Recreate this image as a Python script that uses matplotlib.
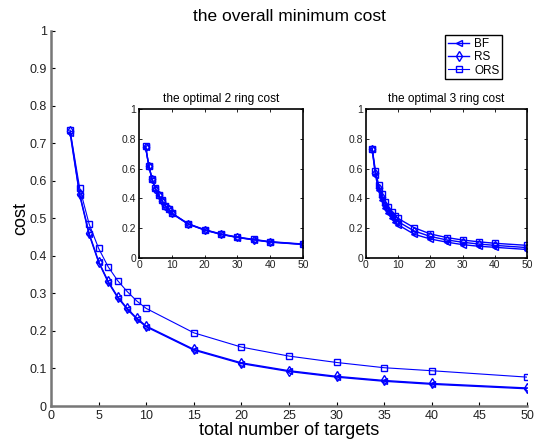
import matplotlib
matplotlib.use("Agg")
import matplotlib.pyplot as plt
import numpy as np

plt.rcParams['font.family'] = ['Liberation Sans', 'DejaVu Sans']

# number of targets
n = [2, 3, 4, 5, 6, 7, 8, 9, 10, 15, 20, 25, 30, 35, 40, 50]

# overall minimum cost
bf_all = [0.727, 0.563, 0.457, 0.383, 0.330, 0.289, 0.258, 0.232, 0.211, 0.149, 0.113, 0.092, 0.077, 0.066, 0.058, 0.046]
rs_all = [0.733, 0.565, 0.460, 0.385, 0.332, 0.291, 0.260, 0.234, 0.213, 0.151, 0.115, 0.094, 0.079, 0.068, 0.060, 0.048]
ors_all = [0.735, 0.582, 0.485, 0.420, 0.371, 0.334, 0.305, 0.280, 0.260, 0.195, 0.157, 0.133, 0.116, 0.102, 0.094, 0.077]

# optimal 2 ring cost
bf_2 = [0.746, 0.615, 0.526, 0.463, 0.420, 0.382, 0.347, 0.324, 0.298, 0.226, 0.186, 0.157, 0.136, 0.120, 0.105, 0.089]
rs_2 = [0.748, 0.618, 0.528, 0.465, 0.422, 0.384, 0.348, 0.326, 0.299, 0.227, 0.187, 0.158, 0.137, 0.121, 0.106, 0.090]
ors_2 = [0.750, 0.620, 0.530, 0.467, 0.424, 0.386, 0.350, 0.328, 0.301, 0.229, 0.189, 0.160, 0.139, 0.123, 0.108, 0.092]

# optimal 3 ring cost
bf_3 = [0.730, 0.557, 0.456, 0.389, 0.337, 0.300, 0.270, 0.243, 0.222, 0.158, 0.126, 0.105, 0.088, 0.077, 0.070, 0.055]
rs_3 = [0.732, 0.570, 0.472, 0.407, 0.357, 0.320, 0.288, 0.263, 0.243, 0.180, 0.143, 0.120, 0.104, 0.092, 0.083, 0.068]
ors_3 = [0.735, 0.586, 0.490, 0.427, 0.377, 0.340, 0.306, 0.283, 0.265, 0.202, 0.160, 0.136, 0.119, 0.107, 0.097, 0.083]

blue = (0, 0, 1)
styles = [("BF", "<", 1.0), ("RS", "d", 1.0), ("ORS", "s", 0.8)]

fig = plt.figure(figsize=(5.43, 4.43), dpi=100)

# main axes
ax = fig.add_axes([0.094, 0.0835, 0.8765, 0.8472])
for (lab, mk, lw), y in zip(styles, [bf_all, rs_all, ors_all]):
    ax.plot(n, y, color=blue, marker=mk, ms=5, mfc="none", mec=blue,
            mew=1.0, lw=lw, label=lab)
ax.set_xlim(0, 50)
ax.set_ylim(0, 1)
ax.set_xticks(np.arange(0, 51, 5))
ax.set_yticks(np.arange(0, 1.01, 0.1))
ax.set_yticklabels(["0", "0.1", "0.2", "0.3", "0.4", "0.5", "0.6", "0.7", "0.8", "0.9", "1"])
ax.spines["top"].set_visible(False)
ax.spines["right"].set_visible(False)
for s in ["left", "bottom"]:
    ax.spines[s].set_color("#777777")
    ax.spines[s].set_linewidth(1.8)
ax.tick_params(direction="in", length=3, width=0.8, colors="black",
               labelcolor="#222222", labelsize=9, pad=3)
ax.set_title("the overall minimum cost", fontsize=12.5, pad=7)
ax.set_xlabel("total number of targets", fontsize=13, labelpad=0)
ax.set_ylabel("cost", fontsize=13, labelpad=0)
leg = ax.legend(loc="upper right", bbox_to_anchor=(0.948, 0.988), fontsize=8.5,
                fancybox=False, framealpha=1, edgecolor="black",
                borderpad=0.25, labelspacing=0.1, handlelength=1.8,
                handletextpad=0.4, borderaxespad=0.0)
leg.get_frame().set_linewidth(1.0)

# insets
def inset(rect, data, title):
    a = fig.add_axes(rect)
    for (lab, mk, lw), y in zip(styles, data):
        a.plot(n, y, color=blue, marker=mk, ms=4.5, mfc="none", mec=blue,
               mew=1.0, lw=1.0)
    a.set_xlim(0, 50)
    a.set_ylim(0, 1)
    a.set_xticks(np.arange(0, 51, 10))
    a.set_yticks(np.arange(0, 1.01, 0.2))
    a.set_yticklabels(["0", "0.2", "0.4", "0.6", "0.8", "1"])
    for s in a.spines.values():
        s.set_color("black")
        s.set_linewidth(1.2)
    a.tick_params(direction="in", length=2, width=0.6, top=True, right=True,
                  labelsize=7.5, labelcolor="#222222", pad=2)
    a.set_title(title, fontsize=8.6, pad=5)
    return a

inset([0.256, 0.4183, 0.302, 0.335], [bf_2, rs_2, ors_2], "the optimal 2 ring cost")
inset([0.6735, 0.4183, 0.2976, 0.335], [bf_3, rs_3, ors_3], "the optimal 3 ring cost")

fig.savefig("out.png", dpi=100)
